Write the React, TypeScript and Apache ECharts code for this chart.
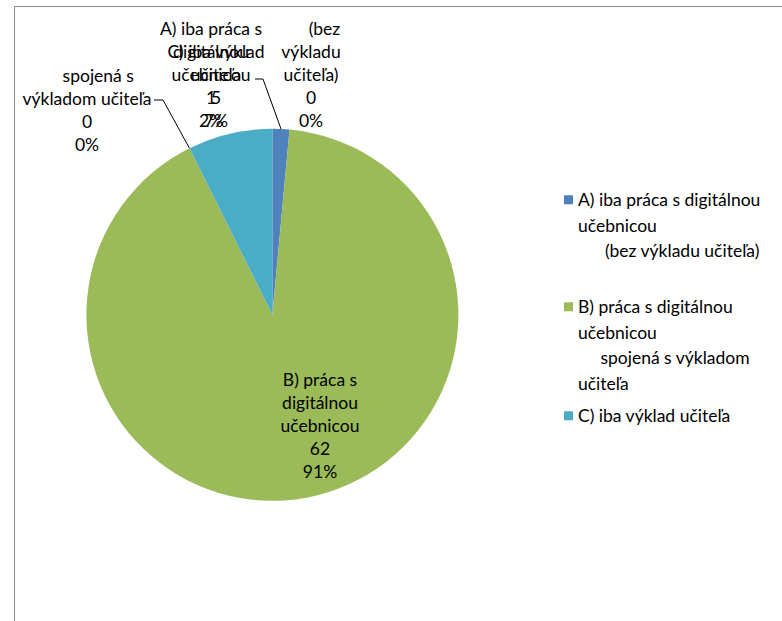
import React, { useEffect, useRef } from "react";
import * as echarts from "echarts";

const NB = "\u00A0";

// Pie data (categories as in the source sheet; two rows carry a zero value)
const categories = [
  "A) iba práca s digitálnou učebnicou",
  "(bez výkladu učiteľa)",
  "B) práca s digitálnou učebnicou",
  "spojená s výkladom učiteľa",
  "C) iba výklad učiteľa",
];
const values = [1, 0, 62, 0, 5];
const sliceColors = ["#4F81BD", "#C0504D", "#9BBB59", "#8064A2", "#4BACC6"];

// Wrapped data-label names
const labelNames = [
  "A) iba práca s\ndigitálnou\nučebnicou",
  NB.repeat(6) + "(bez\nvýkladu\nučiteľa)",
  "B) práca s\ndigitálnou\nučebnicou",
  NB.repeat(5) + "spojená s\nvýkladom učiteľa",
  "C) iba výklad\nučiteľa",
];

// Legend texts
const legendTexts: Record<string, string> = {
  [categories[0]]:
    "A) iba práca s digitálnou\nučebnicou\n" + NB.repeat(6) + "(bez výkladu učiteľa)\n ",
  [categories[2]]:
    "B) práca s digitálnou\nučebnicou\n" + NB.repeat(5) + "spojená s výkladom\nučiteľa",
  [categories[4]]: "C) iba výklad učiteľa",
};

// Label placement (centre of each label block) and leader-line elbows
const labelPos: number[][] = [
  [211, 74],
  [311, 74],
  [320, 425],
  [87, 110],
  [216, 85.5],
];
const labelElbows: (number[][] | null)[] = [
  [
    [263, 79],
    [255, 79],
  ],
  null,
  null,
  [
    [163, 100],
    [154, 100],
  ],
  null,
];

const FONT = "Lato";
const FS = 17.5;

export default function App() {
  const ref = useRef<HTMLDivElement>(null);
  useEffect(() => {
    if (!ref.current) return;
    const chart = echarts.init(ref.current, null, { renderer: "svg" });
    const LH = 25.5;
    const ITEM_H = LH * 4;
    const iconPath =
      "path://M0,0L0.01,0M0," +
      (LH / 2 - 4.5) +
      "h9v9h-9z M0," +
      ITEM_H +
      "L0.01," +
      ITEM_H;
    chart.setOption({
      animation: false,
      backgroundColor: "#ffffff",
      graphic: [
        {
          type: "rect",
          shape: { x: 14.5, y: 6.5, width: 900, height: 900 },
          style: { fill: "none", stroke: "#8a8a8a", lineWidth: 1 },
          silent: true,
          z: 0,
        },
      ],
      legend: [
        {
          data: [categories[0], categories[2]],
          orient: "vertical",
          left: 564,
          top: 187,
          padding: 0,
          itemWidth: 9,
          itemHeight: ITEM_H,
          itemGap: 5,
          icon: iconPath,
          selectedMode: false,
          itemStyle: { borderWidth: 0 },
          formatter: (name: string) => legendTexts[name],
          textStyle: {
            fontFamily: FONT,
            fontSize: FS,
            lineHeight: LH,
            color: "#000",
          },
        },
        {
          data: [categories[4]],
          orient: "vertical",
          left: 564,
          top: 403,
          padding: 0,
          itemWidth: 9,
          itemHeight: 9,
          icon: "rect",
          selectedMode: false,
          itemStyle: { borderWidth: 0 },
          formatter: (name: string) => legendTexts[name],
          textStyle: {
            fontFamily: FONT,
            fontSize: FS,
            lineHeight: LH,
            color: "#000",
          },
        },
      ],
      series: [
        {
          type: "pie",
          center: [272.4, 314.8],
          radius: 186,
          startAngle: 90,
          clockwise: true,
          percentPrecision: 0,
          avoidLabelOverlap: false,
          itemStyle: { borderWidth: 0 },
          emphasis: { disabled: true },
          label: {
            show: true,
            position: "outside",
            color: "#000",
            fontFamily: FONT,
            fontSize: FS,
            lineHeight: 23,
            formatter: (p: any) =>
              `${labelNames[p.dataIndex]}\n${p.value}\n${p.percent}%`,
          },
          labelLine: {
            show: true,
            length: 10,
            length2: 10,
            lineStyle: { color: "#000", width: 1 },
          },
          labelLayout: (p: any) => {
            const i = p.dataIndex;
            const res: any = {
              x: labelPos[i][0],
              y: labelPos[i][1],
              align: "center",
              verticalAlign: "middle",
            };
            const e = labelElbows[i];
            if (e && p.labelLinePoints) {
              res.labelLinePoints = [p.labelLinePoints[0], e[0], e[1]];
            }
            return res;
          },
          data: categories.map((name, i) => ({
            name,
            value: values[i],
            itemStyle: { color: sliceColors[i] },
            labelLine: { show: labelElbows[i] != null },
          })),
        },
      ],
    });
    return () => chart.dispose();
  }, []);
  return (
    <div
      style={{
        position: "fixed",
        left: 0,
        top: 0,
        width: 782,
        height: 621,
        background: "#fff",
      }}
    >
      <div ref={ref} style={{ width: 782, height: 621 }} />
    </div>
  );
}
